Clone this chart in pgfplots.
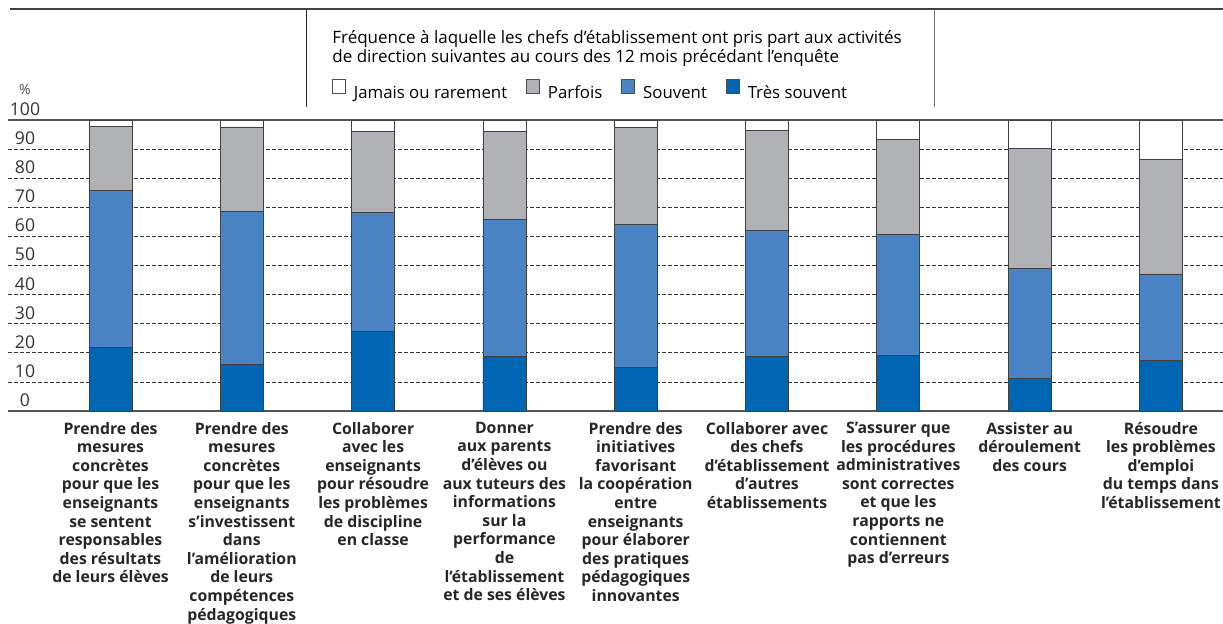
\documentclass[border=0pt]{standalone}
\usepackage{fontspec}
\setmainfont{Open Sans}
\usepackage{pgfplots}
\pgfplotsset{compat=1.18}
\definecolor{tressouvent}{RGB}{0,102,179}
\definecolor{souvent}{RGB}{74,132,196}
\definecolor{parfois}{RGB}{177,178,181}
\definecolor{rulegray}{RGB}{85,85,85}

\begin{document}
\begin{tikzpicture}
\begin{axis}[
    at={(4pt,106pt)}, anchor=south west,
    scale only axis, width=607.5pt, height=145.5pt,
    ybar stacked, bar width=21.5pt,
    xmin=-0.7807, xmax=8.4729, ymin=0, ymax=100,
    axis line style={draw=none},
    clip=false,
    xtick={0,...,8},
    xticklabels={
      {Prendre des\\mesures\\concrètes\\pour que les\\enseignants\\se sentent\\responsables\\des résultats\\de leurs élèves},
      {Prendre des\\mesures\\concrètes\\pour que les\\enseignants\\s’investissent\\dans\\l’amélioration\\de leurs\\compétences\\pédagogiques},
      {Collaborer\\avec les\\enseignants\\pour résoudre\\les problèmes\\de discipline\\en classe},
      {Donner\\aux parents\\d’élèves ou\\aux tuteurs des\\informations\\sur la\\performance\\de\\l’établissement\\et de ses élèves},
      {Prendre des\\initiatives\\favorisant\\la coopération\\entre\\enseignants\\pour élaborer\\des pratiques\\pédagogiques\\innovantes},
      {Collaborer avec\\des chefs\\d’établissement\\d’autres\\établissements},
      {S’assurer que\\les procédures\\administratives\\sont correctes\\et que les\\rapports ne\\contiennent\\pas d’erreurs},
      {Assister au\\déroulement\\des cours},
      {Résoudre\\les problèmes\\d’emploi\\du temps dans\\l’établissement}},
    ytick={0,10,...,100},
    major tick length=0pt,
    ymajorgrids,
    grid style={dash pattern=on 2pt off 1pt, line width=0.4pt, black!80},
    xticklabel style={font=\bfseries\fontsize{7.9}{9.3}\selectfont, align=center,
      anchor=north, inner sep=0pt, yshift=-5.3pt, text=black!85},
    yticklabel style={font=\fontsize{8.8}{10}\selectfont, anchor=south,
      inner sep=0pt, xshift=8.5pt, yshift=2pt, text=black!80},
    /pgf/number format/assume math mode=true,
    legend columns=4, reverse legend,
    legend image code/.code={\draw[#1, draw=black!70, line width=0.4pt] (0pt,0pt) rectangle (6.5pt,7pt);},
    legend style={draw=none, fill=none, inner sep=0pt, outer sep=0pt,
      at={(axis description cs:0.2667,1.0636)}, anchor=south west,
      font=\fontsize{8.4}{10}\selectfont, nodes={inner sep=0pt},
      /tikz/every odd column/.append style={column sep=4pt},
      /tikz/every even column/.append style={column sep=9.5pt}},
    legend cell align=left,
]
% Très souvent
\addplot[fill=tressouvent, draw=black!75, line width=0.4pt] coordinates
  {(0,21.8) (1,16.0) (2,27.5) (3,18.6) (4,15.0) (5,18.8) (6,19.2) (7,11.1) (8,17.3)};
% Souvent
\addplot[fill=souvent, draw=black!75, line width=0.4pt] coordinates
  {(0,53.9) (1,52.7) (2,40.7) (3,47.2) (4,49.0) (5,43.3) (6,41.5) (7,37.8) (8,29.8)};
% Parfois
\addplot[fill=parfois, draw=black!75, line width=0.4pt] coordinates
  {(0,22.2) (1,28.9) (2,27.9) (3,30.4) (4,33.4) (5,34.3) (6,32.5) (7,41.4) (8,39.4)};
% Jamais ou rarement
\addplot[fill=white, draw=black!75, line width=0.4pt] coordinates
  {(0,2.1) (1,2.4) (2,3.9) (3,3.8) (4,2.6) (5,3.6) (6,6.8) (7,9.7) (8,13.5)};
\legend{Très souvent, Souvent, Parfois, Jamais ou rarement}
\draw[rulegray, line width=0.8pt] (rel axis cs:0,0) -- (rel axis cs:1,0);
\draw[rulegray, line width=0.8pt] (rel axis cs:0,1) -- (rel axis cs:1,1);
\end{axis}
% frame of the legend panel
\draw[black!75, line width=1pt] (5pt,307pt) -- (611.5pt,307pt);
\draw[black!85, line width=0.5pt] (153pt,306.5pt) -- (153pt,258pt);
\draw[black!55, line width=0.5pt] (467pt,306.5pt) -- (467pt,258pt);
\node[anchor=base west, inner sep=0pt, font=\fontsize{8.5}{10}\selectfont]
  at (166pt,290pt) {Fréquence à laquelle les chefs d’établissement ont pris part aux activités};
\node[anchor=base west, inner sep=0pt, font=\fontsize{8.5}{10}\selectfont]
  at (166pt,280pt) {de direction suivantes au cours des 12 mois précédant l’enquête};
\node[font=\fontsize{7}{8}\selectfont, text=black!70, inner sep=0pt] at (12.5pt,267pt) {\%};
\pgfresetboundingbox
\path (0,0) rectangle (611.5pt,311.5pt);
\end{tikzpicture}
\end{document}
